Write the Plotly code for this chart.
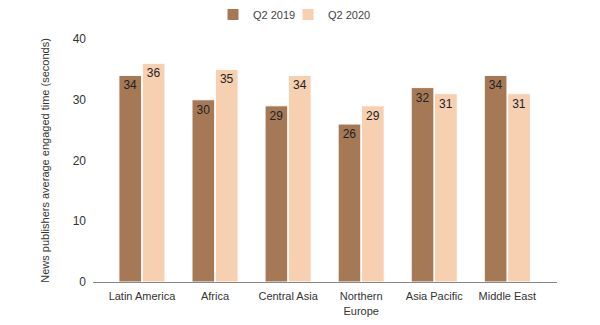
import plotly.graph_objects as go

categories = ["Latin America", "Africa", "Central Asia", "Northern<br>Europe", "Asia Pacific", "Middle East"]
q2_2019 = [34, 30, 29, 26, 32, 34]
q2_2020 = [36, 35, 34, 29, 31, 31]

dark = "#a57956"
light = "#f6d0b1"

fig = go.Figure()
fig.add_trace(go.Bar(name="Q2 2019", x=categories, y=q2_2019, marker=dict(color=dark, line=dict(color="white", width=1)),
                     text=q2_2019, textposition="inside", insidetextanchor="end",
                     textfont=dict(color="#222", size=12), textangle=0, legend="legend", showlegend=True))
fig.add_trace(go.Bar(name="Q2 2020", x=categories, y=q2_2020, marker=dict(color=light, line=dict(color="white", width=1)),
                     text=q2_2020, textposition="inside", insidetextanchor="end",
                     textfont=dict(color="#222", size=12), textangle=0, legend="legend2", showlegend=True))

leg_common = dict(orientation="h", xref="container", yref="container", xanchor="left",
                  y=1.0, yanchor="top", font=dict(size=11, color="#444"), itemwidth=30,
                  bgcolor="rgba(0,0,0,0)")
fig.update_layout(
    width=600, height=325,
    showlegend=True,
    margin=dict(l=93, r=43, t=39, b=43, autoexpand=False),
    paper_bgcolor="white", plot_bgcolor="white",
    barmode="group", bargap=0.36, bargroupgap=0.03,
    font=dict(family="Liberation Sans, Arial", size=11, color="#333"),
    legend=dict(x=0.355, **leg_common),
    legend2=dict(x=0.48, **leg_common),
    uniformtext=dict(mode="show", minsize=12),
)
fig.update_xaxes(range=[-0.67, 5.68], showline=True, linecolor="#888", linewidth=1, ticks="",
                 tickfont=dict(size=11, color="#333"), ticklabelstandoff=4)
fig.update_yaxes(range=[0, 40], dtick=10, showgrid=False, zeroline=False, showline=False,
                 tickfont=dict(size=12, color="#333"), ticklabelstandoff=6,
                 title=dict(text="News publishers average engaged time (seconds)", font=dict(size=11, color="#333"), standoff=20))

fig.write_html("out.html")
